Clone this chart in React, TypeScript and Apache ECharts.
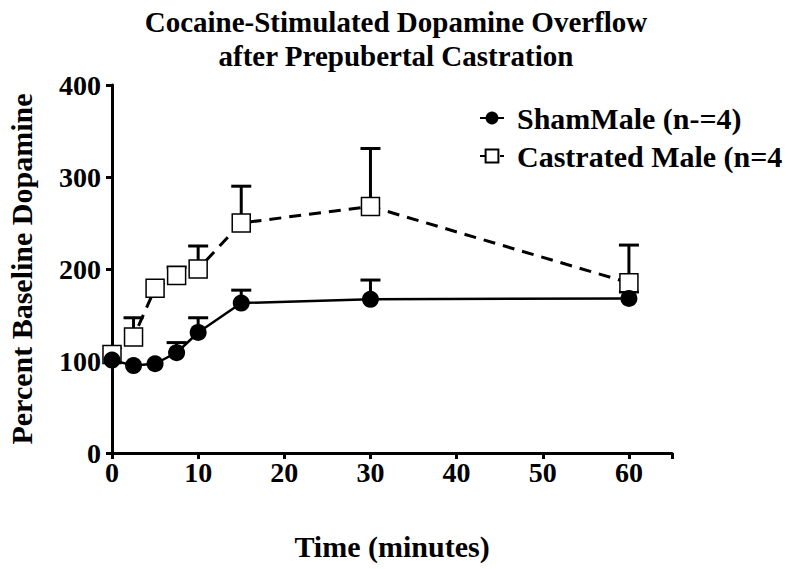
import React, { useEffect, useRef } from "react";
import * as echarts from "echarts";

const titleLines = ["Cocaine-Stimulated Dopamine Overflow", "after Prepubertal Castration"];
const xName = "Time (minutes)";
const yName = "Percent Baseline Dopamine";
const times = [0, 2.5, 5, 7.5, 10, 15, 30, 60];
const shamName = "ShamMale (n-=4)";
const castName = "Castrated Male (n=4";
const shamMean = [101, 95, 97, 109, 131, 163, 167, 168];
const shamUpper = [101, 95, 97, 120, 147, 177, 188, 175];
const castMean = [107, 126, 179, 193, 200, 250, 268, 185];
const castUpper = [107, 147, 179, 202, 225, 290, 331, 226];

const FONT = "Liberation Serif";

function errorSeries(means: number[], uppers: number[], z: number) {
  return {
    type: "custom",
    z,
    silent: true,
    data: times.map((t, i) => [t, means[i], uppers[i]]),
    renderItem: (_params: any, api: any) => {
      const x = api.value(0);
      const m = api.value(1);
      const u = api.value(2);
      if (u <= m) return { type: "group", children: [] };
      const p0 = api.coord([x, m]);
      const p1 = api.coord([x, u]);
      const half = 10;
      const style = { stroke: "#000", lineWidth: 3 };
      return {
        type: "group",
        children: [
          { type: "line", shape: { x1: p0[0], y1: p0[1], x2: p1[0], y2: p1[1] }, style },
          { type: "line", shape: { x1: p1[0] - half, y1: p1[1], x2: p1[0] + half, y2: p1[1] }, style },
        ],
      };
    },
  };
}

export default function App() {
  const ref = useRef<HTMLDivElement>(null);
  useEffect(() => {
    if (!ref.current) return;
    const chart = echarts.init(ref.current, null, { renderer: "svg" });
    const axisCommon = {
      axisLine: { show: true, lineStyle: { color: "#000", width: 3 } },
      axisTick: { show: true, length: 6, lineStyle: { color: "#000", width: 3 } },
      splitLine: { show: false },
      nameTextStyle: { color: "#000", fontFamily: FONT, fontWeight: "bold", fontSize: 30 },
    };
    chart.setOption({
      animation: false,
      backgroundColor: "#fff",
      title: {
        text: titleLines.join("\n"),
        left: 391,
        textAlign: "center",
        top: 0,
        textStyle: { color: "#000", fontFamily: FONT, fontWeight: "bold", fontSize: 29, lineHeight: 34 },
      },
      legend: {
        orient: "vertical",
        left: 474,
        top: 98,
        itemGap: 8,
        itemWidth: 24,
        itemHeight: 16,
        textStyle: { color: "#000", fontFamily: FONT, fontWeight: "bold", fontSize: 30, padding: [0, 0, 0, 8] },
        data: [shamName, castName],
      },
      grid: { left: 112, right: 128, top: 85, bottom: 116, outerBoundsMode: "none" },
      xAxis: {
        type: "value",
        min: 0,
        max: 65,
        interval: 10,
        name: xName,
        nameLocation: "middle",
        nameGap: 78,
        ...axisCommon,
        axisLabel: {
          color: "#000",
          fontFamily: FONT,
          fontWeight: "bold",
          fontSize: 28,
          margin: 5,
          formatter: (v: number) => (v % 10 === 0 ? String(v) : ""),
        },
      },
      yAxis: {
        type: "value",
        min: 0,
        max: 400,
        interval: 100,
        name: yName,
        nameLocation: "middle",
        nameGap: 76,
        ...axisCommon,
        axisLabel: { color: "#000", fontFamily: FONT, fontWeight: "bold", fontSize: 28, margin: 11 },
      },
      series: [
        errorSeries(castMean, castUpper, 1),
        errorSeries(shamMean, shamUpper, 1),
        {
          name: castName,
          type: "line",
          z: 3,
          data: times.map((t, i) => [t, castMean[i]]),
          symbol: "rect",
          symbolSize: 18,
          lineStyle: { color: "#000", width: 3, type: [12, 8] },
          itemStyle: { color: "#fff", borderColor: "#000", borderWidth: 1.5 },
        },
        {
          name: shamName,
          type: "line",
          z: 4,
          data: times.map((t, i) => [t, shamMean[i]]),
          symbol: "circle",
          symbolSize: 17,
          lineStyle: { color: "#000", width: 2.5 },
          itemStyle: { color: "#000" },
        },
      ],
    });
    return () => chart.dispose();
  }, []);
  return <div ref={ref} style={{ width: 800, height: 569, position: "absolute", left: 0, top: 0 }} />;
}
